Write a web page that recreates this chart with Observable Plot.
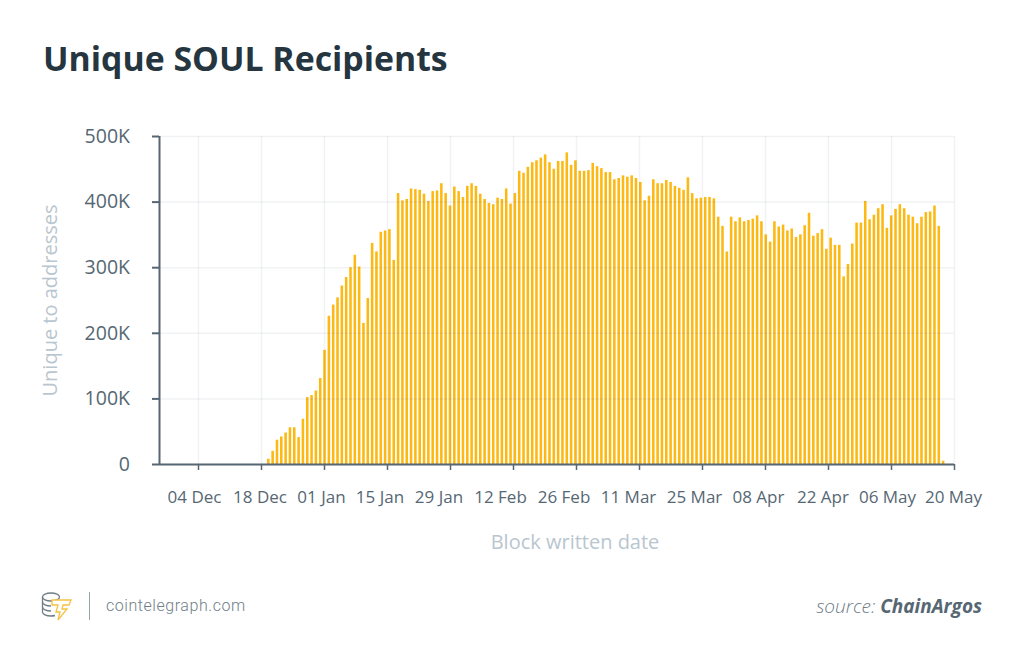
<!DOCTYPE html>
<html>
<head>
<meta charset="utf-8">
<script src="https://cdn.jsdelivr.net/npm/d3@7"></script>
<script src="https://cdn.jsdelivr.net/npm/@observablehq/plot@0.6"></script>
<style>
html,body{margin:0;padding:0;background:#fff;width:1024px;height:663px;overflow:hidden;font-family:"Open Sans",sans-serif;}
#title{position:absolute;left:43px;top:35px;margin:0;font-size:33.8px;line-height:46px;font-weight:700;color:#263640;letter-spacing:0;}
#chart{position:absolute;left:0;top:90px;}
#chart svg{display:block;}
#brand{position:absolute;left:106px;top:595px;font-family:Roboto,sans-serif;font-size:16px;font-weight:300;line-height:22px;color:#6f7e89;letter-spacing:.55px;}
#sep{position:absolute;left:89px;top:592px;width:1px;height:28px;background:#9aa4ab;}
#logo{position:absolute;left:41px;top:591px;}
#source{position:absolute;right:42px;top:594px;font-size:19px;line-height:25px;font-style:italic;font-weight:300;color:#6d7c87;}
#source b{font-weight:700;color:#566773;}
</style>
</head>
<body>
<h1 id="title">Unique SOUL Recipients</h1>
<div id="chart"></div>
<svg id="logo" width="34" height="32" viewBox="0 0 34 32" fill="none">
  <g stroke="#6f7d87" stroke-width="1.3">
    <ellipse cx="10" cy="6" rx="8.5" ry="4"/>
    <path d="M1.5 6v15c0 2.2 3.8 4 8.5 4 1.5 0 2.8-.2 4-.5"/>
    <path d="M1.5 11c0 2.2 3.8 4 8.5 4M1.5 16c0 2.2 3.8 4 8.5 4"/>
  </g>
  <path d="M11 9h19l-2 5h-6l-1 4h5l-9 11 2-8h-4l2-7h-6z" stroke="#f5c242" stroke-width="1.3" fill="#fff"/>
</svg>
<div id="sep"></div>
<div id="brand">cointelegraph.com</div>
<div id="source">source: <b>ChainArgos</b></div>
<script>
// Unique to-addresses per bar, thousands
const recipients = [
  8,20,37,42,48,56,56,41,69,102,105,112,131,174,226,243,254,272,285,300,319,301,215,253,337,324,354,356,358,311,
  413,402,404,420,419,418,412,401,416,417,428,413,394,423,416,407,424,428,424,412,404,398,396,406,404,420,397,413,
  447,444,453,460,463,467,472,460,450,462,462,475,456,463,447,447,448,459,454,451,445,445,434,436,440,438,440,436,430,
  402,409,434,428,428,433,430,424,421,418,437,413,405,406,407,407,405,377,363,324,377,370,376,370,372,374,379,370,350,339,
  370,362,365,356,359,346,350,364,383,348,352,358,328,345,334,334,286,305,336,368,368,401,373,380,390,396,360,379,389,396,390,380,377,367,377,384,385,394,363,5
];
const firstBar = Date.UTC(2019, 11, 19, 15);
const barStepHours = 23.07;
const tickDates = ["2019-12-04","2019-12-18","2020-01-01","2020-01-15","2020-01-29","2020-02-12","2020-02-26","2020-03-11","2020-03-25","2020-04-08","2020-04-22","2020-05-06","2020-05-20"].map(d => new Date(d));
const yTicks = [0,100,200,300,400,500];
const labelShift = [-4,-1.5,-3,-7.5,-11.5,-13,-12.5,-11,-8,-7,-5.5,-4,-1];

const HOUR = 3600e3, PX_MS = 24 * HOUR / 4.5;
const table = recipients.map((v,i) => ({date: new Date(firstBar + i * barStepHours * HOUR), value: v}));
const halfBar = 1.28 * PX_MS;
const dark = "#566773", pale = "#b9c6cf", barColor = "#fdb913", gridColor = "#5a6a75";

const plot = Plot.plot({
  width: 1024, height: 480,
  marginLeft: 159, marginRight: 70, marginTop: 46, marginBottom: 106,
  style: {fontFamily: '"Open Sans",sans-serif', background: "#fff", overflow: "visible"},
  x: {type: "utc", domain: [new Date(Date.UTC(2019,10,25,8)), new Date("2020-05-20")]},
  y: {domain: [0, 500]},
  marks: [
    Plot.rectY(table, {
      x1: d => new Date(+d.date - halfBar),
      x2: d => new Date(+d.date + halfBar),
      y: "value", fill: barColor
    }),
    Plot.gridX(tickDates, {stroke: gridColor, strokeOpacity: 0.09, strokeWidth: 1.5}),
    Plot.gridY(yTicks, {stroke: gridColor, strokeOpacity: 0.09, strokeWidth: 1.5}),
    Plot.axisY(yTicks, {
      label: null, tickSize: 7, tickPadding: 22.5, fontSize: 19.5, stroke: dark, fill: dark, strokeWidth: 2,
      tickFormat: d => d === 0 ? "0" : d + "K"
    }),
    Plot.axisX(tickDates, {label: null, tickSize: 6, tickFormat: () => "", stroke: dark, strokeWidth: 1.5}),
    Plot.text(tickDates, {
      x: (d,i) => new Date(+d + labelShift[i] * PX_MS),
      frameAnchor: "bottom", dy: 33.5,
      text: d => d3.utcFormat("%d %b")(d),
      fontSize: 17, fill: dark, lineAnchor: "middle"
    }),
    Plot.ruleY([0], {stroke: dark, strokeWidth: 2}),
    Plot.ruleX([new Date(Date.UTC(2019,10,25,8))], {stroke: dark, strokeWidth: 2}),
    Plot.text(["Block written date"], {
      frameAnchor: "bottom", dx: 18, dy: 78.5, text: d => d, fontSize: 20, fill: pale, lineAnchor: "middle"
    }),
    Plot.text(["Unique to addresses"], {
      frameAnchor: "left", dx: -109, rotate: -90, text: d => d, fontSize: 20, fill: pale, lineAnchor: "middle", textAnchor: "middle"
    })
  ]
});
document.getElementById("chart").append(plot);
</script>
</body>
</html>
